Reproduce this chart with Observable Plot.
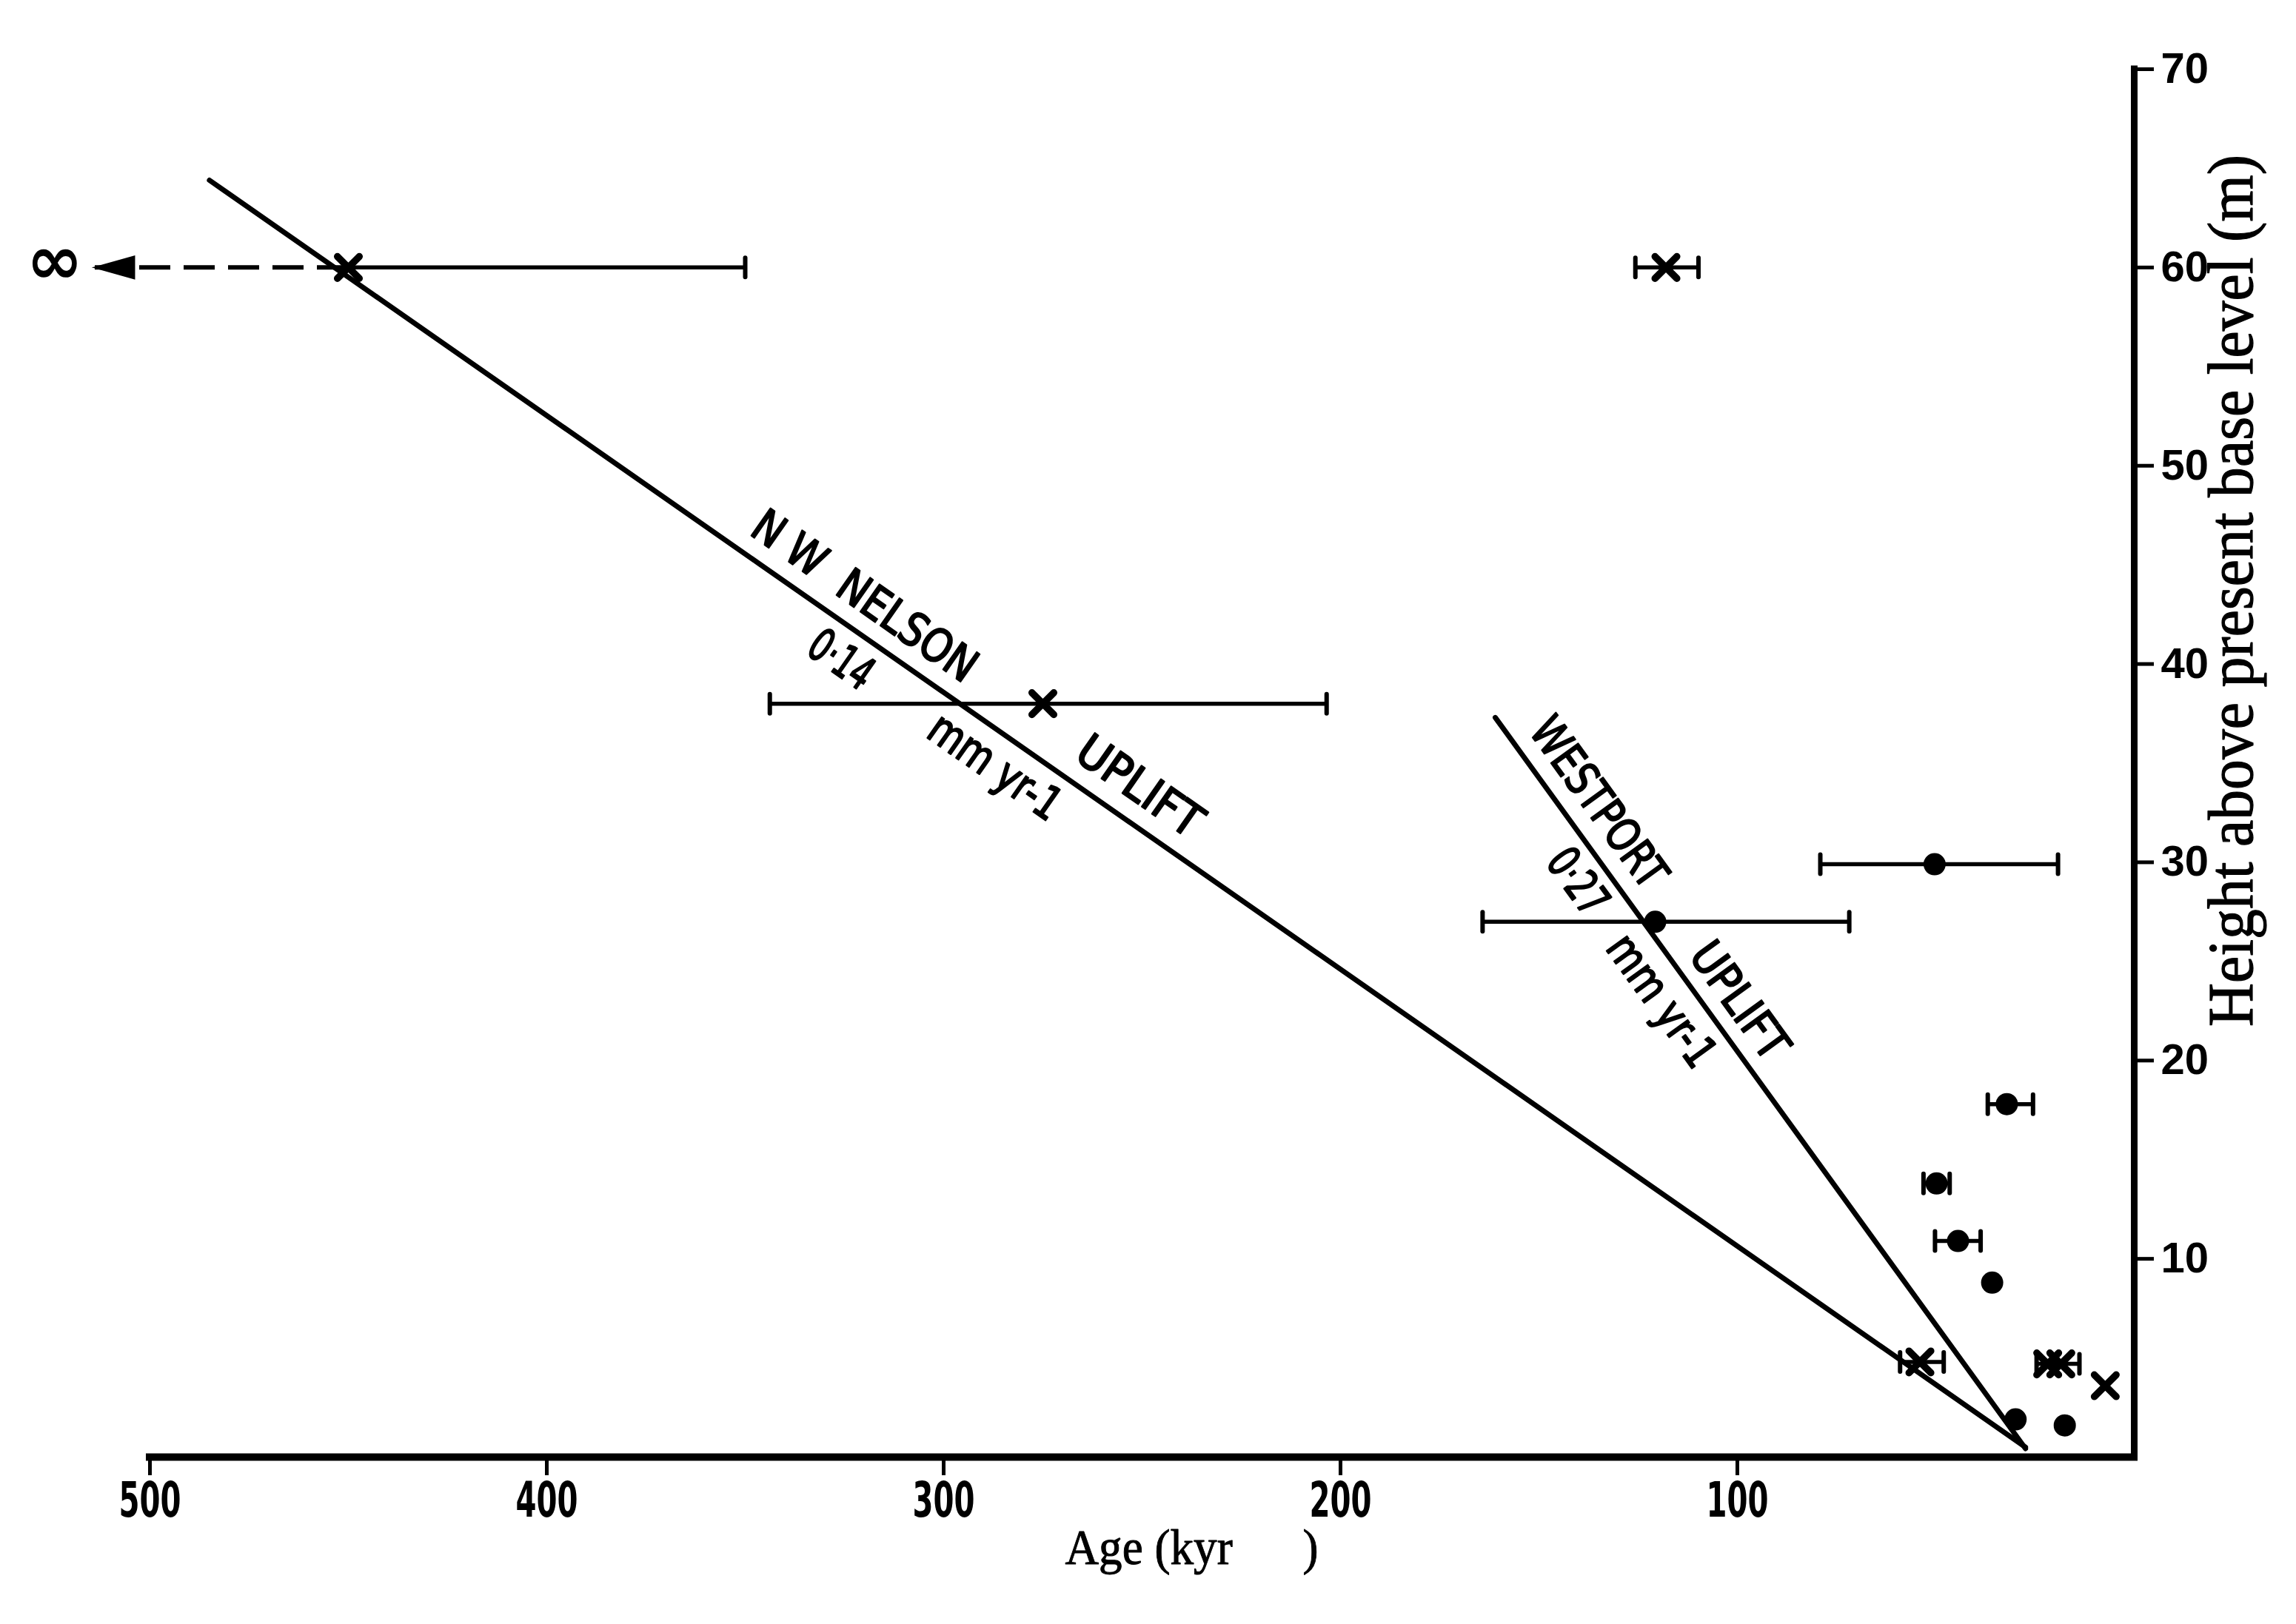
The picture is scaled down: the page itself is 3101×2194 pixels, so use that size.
<!DOCTYPE html>
<html>
<head>
<meta charset="utf-8">
<script src="https://cdn.jsdelivr.net/npm/d3@7"></script>
<script src="https://cdn.jsdelivr.net/npm/@observablehq/plot@0.6"></script>
<style>
  html, body { margin: 0; padding: 0; background: #fff; }
  #chart svg { display: block; }
</style>
</head>
<body>
<div id="chart"></div>
<script>
// ---------------- data ----------------
const xTicks = [500, 400, 300, 200, 100];
const yTicks = [10, 20, 30, 40, 50, 60, 70];

// crosses (x symbols): age (kyr), height (m), error range
const crossAge    = [450, 118, 275, 54, 21.8, 18.5, 7.3];
const crossHeight = [60, 60, 38, 4.8, 4.7, 4.7, 3.6];
const crossYoung  = [350, 109.8, 203.5, 48, 13.8, null, null];
const crossOld    = [Infinity, 125.7, 343.8, 59, 24.6, null, null];

// filled circles
const dotAge    = [120.7, 50.3, 32.1, 49.8, 44.4, 35.8, 29.9, 17.5];
const dotHeight = [27.0, 29.9, 17.8, 13.8, 10.9, 8.8, 1.9, 1.6];
const dotYoung  = [71.8, 19.2, 25.5, 46.5, 38.7, null, null, null];
const dotOld    = [164.2, 79.1, 36.9, 53.1, 50.2, null, null, null];

// uplift lines
const nelsonAge      = [485, 27.4];
const nelsonHeight   = [64.4, 0.5];
const westportAge    = [161, 27.4];
const westportHeight = [37.3, 0.43];

// open-ended (infinite) age for the 60 m cross
const openEndTipAge = 514;
const infinityAge = 524;
const infinityHeight = 60.3;

// line annotations
const labelText   = ["N W  NELSON", "0\u00b714", "mm yr-1", "UPLIFT", "WESTPORT", "0\u00b727", "mm yr-1", "UPLIFT"];
const labelLine   = ["nelson", "nelson", "nelson", "nelson", "westport", "westport", "westport", "westport"];
const labelAge    = [320, 325.9, 287.1, 250.7, 135.1, 140.3, 119.2, 99.6];
const labelHeight = [43.4, 40.2, 34.8, 33.8, 33.0, 29.0, 23.0, 23.0];

const xTitle = "Age (kyr\u00a0\u00a0\u00a0\u00a0\u00a0\u00a0)";
const yTitle = "Height above present base level (m)";
const xTitleAt = [237.5, -5.4];
const yTitleAt = [-24.6, 43.7];

// ---------------- layout / style ----------------
const W = 3101, H = 2194;
const ml = 202, mr = 219, mt = 93, mb = 226;
const kx = (W - ml - mr) / 500, ky = (H - mt - mb) / 70;
const angleOf = (a, h) => Math.atan(((h[0] - h[1]) * ky) / ((a[0] - a[1]) * kx)) * 180 / Math.PI;
const angles = {nelson: angleOf(nelsonAge, nelsonHeight), westport: angleOf(westportAge, westportHeight)};
const labelLength = [355, 92, 204, 192, 268, 95, 205, 180];

const crosses = crossAge.map((a, i) => ({age: a, h: crossHeight[i], lo: crossYoung[i], hi: crossOld[i]}));
const dots = dotAge.map((a, i) => ({age: a, h: dotHeight[i], lo: dotYoung[i], hi: dotOld[i]}));
const withBars = [...crosses, ...dots].filter(d => d.lo != null);
const solidBars = withBars.map(d => ({h: d.h, x1: d.lo, x2: isFinite(d.hi) ? d.hi : d.age}));
const openBars = withBars.filter(d => !isFinite(d.hi));
const caps = withBars.flatMap(d => [d.lo, d.hi].filter(v => isFinite(v)).map(v => ({x: v, h: d.h})));
const nelson = nelsonAge.map((a, i) => ({age: a, h: nelsonHeight[i]}));
const westport = westportAge.map((a, i) => ({age: a, h: westportHeight[i]}));
const labels = labelText.map((t, i) => ({text: t, age: labelAge[i], h: labelHeight[i], angle: angles[labelLine[i]]}));

const capSymbol = {draw(ctx, size) { const r = Math.sqrt(size / Math.PI); ctx.moveTo(0, -r); ctx.lineTo(0, r); }};
const arrowSymbol = {draw(ctx, size) { const r = Math.sqrt(size / Math.PI); ctx.moveTo(0, 0); ctx.lineTo(r * 3.6, -r); ctx.lineTo(r * 3.6, r); ctx.closePath(); }};

const sansC = "'Liberation Sans Narrow', 'DejaVu Sans Condensed', 'DejaVu Sans', sans-serif";

const plot = Plot.plot({
  width: W, height: H,
  marginLeft: ml, marginRight: mr, marginTop: mt, marginBottom: mb,
  x: {domain: [500, 0]},
  y: {domain: [0, 70]},
  style: {background: "white", color: "black", overflow: "visible"},
  marks: [
    // frame axes
    Plot.axisX(xTicks, {tickSize: 25, tickPadding: 9, strokeWidth: 5, fontSize: 66, fontWeight: "bold",
      fontFamily: sansC, label: null, tickFormat: d => String(d)}),
    Plot.axisY(yTicks, {anchor: "right", tickSize: 26, tickPadding: 10, strokeWidth: 5, fontSize: 58, fontWeight: "bold",
      fontFamily: "'Liberation Sans', Arial, sans-serif", label: null, tickFormat: d => String(d)}),
    Plot.ruleY([0], {x1: 500, x2: 0, strokeWidth: 10, strokeLinecap: "square"}),
    Plot.ruleX([0], {y1: 0, y2: 70, strokeWidth: 9, strokeLinecap: "square"}),

    // uplift lines
    Plot.line(nelson, {x: "age", y: "h", strokeWidth: 7, strokeLinecap: "round"}),
    Plot.line(westport, {x: "age", y: "h", strokeWidth: 7, strokeLinecap: "round"}),

    // error bars
    Plot.ruleY(solidBars, {y: "h", x1: "x1", x2: "x2", strokeWidth: 5.5}),
    Plot.ruleY(openBars, {y: "h", x1: "age", x2: () => openEndTipAge, strokeWidth: 6, strokeDasharray: "42,18"}),
    Plot.dot(caps, {x: "x", y: "h", symbol: capSymbol, r: 13, stroke: "black", strokeWidth: 6, strokeLinecap: "round", fill: "none"}),
    Plot.dot(openBars, {x: () => openEndTipAge, y: "h", symbol: arrowSymbol, r: 15, fill: "black", stroke: "black", strokeWidth: 2}),
    Plot.text([infinityAge], {x: d => d, y: () => infinityHeight, text: () => "\u221e", fontSize: 92, fontWeight: "bold",
      fontFamily: "'DejaVu Sans', sans-serif", textAnchor: "middle", lineAnchor: "middle"}),

    // markers
    Plot.dot(crosses, {x: "age", y: "h", symbol: "times", r: 13.5, stroke: "black", strokeWidth: 9.5, strokeLinecap: "round"}),
    Plot.dot(dots, {x: "age", y: "h", r: 15, fill: "black", stroke: "none"}),

    // line labels
    Plot.text(labels, {x: "age", y: "h", text: "text", rotate: "angle", fontSize: 62,
      fontFamily: "'DejaVu Sans Condensed', 'DejaVu Sans', sans-serif", textAnchor: "middle", lineAnchor: "middle",
      fill: "black", stroke: "black", strokeWidth: 2.2, ariaDescription: "line-labels"}),

    // axis titles
    Plot.text([xTitle], {x: () => xTitleAt[0], y: () => xTitleAt[1], text: d => d, fontSize: 68,
      fontFamily: "'Liberation Serif', 'Times New Roman', serif", textAnchor: "middle", lineAnchor: "bottom",
      fill: "black", stroke: "black", strokeWidth: 1, ariaDescription: "x-title"}),
    Plot.text([yTitle], {x: () => yTitleAt[0], y: () => yTitleAt[1], text: d => d, rotate: -90, fontSize: 86,
      fontFamily: "'Liberation Serif', 'Times New Roman', serif", textAnchor: "middle", lineAnchor: "middle",
      fill: "black", stroke: "black", strokeWidth: 1.2, ariaDescription: "y-title"})
  ]
});

document.getElementById("chart").append(plot);

// fit text widths to the reference
const svg = d3.select(plot);
const fit = (sel, len) => sel.attr("textLength", len).attr("lengthAdjust", "spacingAndGlyphs");
fit(svg.selectAll('g[aria-label="x-axis tick label"] text'), 84);
fit(svg.selectAll('g[aria-description="x-title"] text'), 342);
fit(svg.selectAll('g[aria-description="y-title"] text'), 1178);
svg.selectAll('g[aria-description="line-labels"] text').each(function(d, i) {
  fit(d3.select(this), labelLength[i]);
});
</script>
</body>
</html>
